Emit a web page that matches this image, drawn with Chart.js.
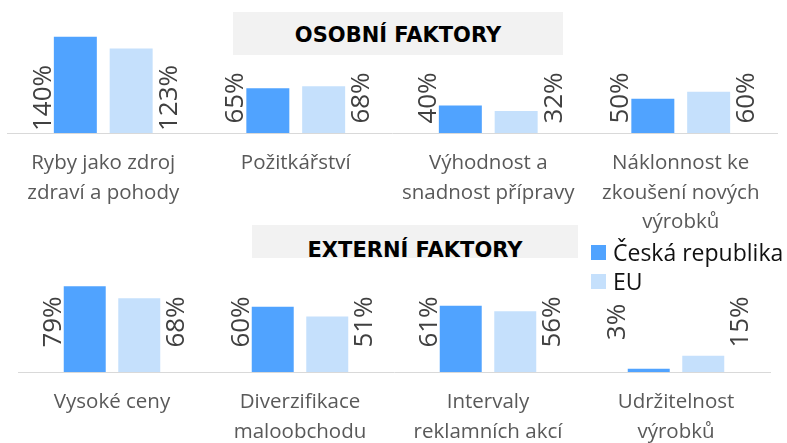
<!DOCTYPE html>
<html>
<head>
<meta charset="utf-8">
<script src="https://cdn.jsdelivr.net/npm/chart.js@4.4.0/dist/chart.umd.min.js"></script>
<style>
  body { margin: 0; background: #fff; font-family: "Open Sans", sans-serif; }
  #wrap { position: relative; width: 787px; height: 443px; overflow: hidden; }
  canvas { position: absolute; left: 0; }
  #topChart { top: 0; }
  #bottomChart { top: 236px; }
  .title { position: absolute; background: #f2f2f2; font-family: "DejaVu Sans", sans-serif; font-weight: bold;
           font-size: 21px; color: #000; text-align: center; overflow: hidden; line-height: 21px; box-sizing: border-box; }
  .legend { position: absolute; left: 591px; font-size: 23px; color: #111; line-height: 29px; }
  .legend div { display: flex; align-items: center; }
  .legend span.box { display: inline-block; width: 15px; height: 15px; margin-right: 7px; }
</style>
</head>
<body>
<div id="wrap">
  <canvas id="topChart" width="787" height="236"></canvas>
  <canvas id="bottomChart" width="787" height="207"></canvas>
  <div class="title" style="left:233px;top:12px;width:330px;height:43px;padding-top:13px;">OSOBNÍ FAKTORY</div>
  <div class="title" style="left:252px;top:225px;width:326px;height:33px;padding-top:15px;">EXTERNÍ FAKTORY</div>
  <div class="legend" style="top:238px;">
    <div><span class="box" style="background:#50a3ff"></span>Česká republika</div>
    <div><span class="box" style="background:#c5e0fc"></span>EU</div>
  </div>
</div>
<script>
// personal factors (top panel)
const personalLabels = [
  ['Ryby jako zdroj', 'zdraví a pohody'],
  ['Požitkářství'],
  ['Výhodnost a', 'snadnost přípravy'],
  ['Náklonnost ke', 'zkoušení nových', 'výrobků']
];
const personalCZ = [140, 65, 40, 50];
const personalEU = [123, 68, 32, 60];

// external factors (bottom panel)
const externalLabels = [
  ['Vysoké ceny'],
  ['Diverzifikace', 'maloobchodu'],
  ['Intervaly', 'reklamních akcí'],
  ['Udržitelnost', 'výrobků']
];
const externalCZ = [79, 60, 61, 3];
const externalEU = [68, 51, 56, 15];

const seriesNames = ['Česká republika', 'EU'];
const colorCZ = '#50a3ff';
const colorEU = '#c5e0fc';

// rotated % labels beside each bar
const sideLabels = {
  id: 'sideLabels',
  afterDatasetsDraw(chart, args, opts) {
    const ctx = chart.ctx;
    const base = chart.chartArea.bottom;
    ctx.save();
    ctx.font = '26px "Open Sans"';
    ctx.fillStyle = '#404040';
    ctx.textAlign = 'center';
    ctx.textBaseline = 'alphabetic';
    chart.data.datasets.forEach((ds, i) => {
      chart.getDatasetMeta(i).data.forEach((bar, j) => {
        const half = bar.width / 2;
        const x = i === 0 ? bar.x - half - 3 : bar.x + half + 24;
        ctx.save();
        ctx.translate(x, base - opts.lift);
        ctx.rotate(-Math.PI / 2);
        ctx.fillText(ds.data[j] + '%', 0, 0);
        ctx.restore();
      });
    });
    ctx.restore();
  }
};

function makeChart(id, labels, cz, eu, s) {
  return new Chart(document.getElementById(id), {
    type: 'bar',
    data: {
      labels: labels,
      datasets: [
        { label: seriesNames[0], data: cz, backgroundColor: colorCZ },
        { label: seriesNames[1], data: eu, backgroundColor: colorEU }
      ]
    },
    options: {
      responsive: false,
      animation: false,
      categoryPercentage: 0.58,
      barPercentage: 0.77,
      layout: { padding: { left: s.left, right: s.right, top: 10, bottom: 0 } },
      plugins: {
        legend: { display: false },
        tooltip: { enabled: false },
        sideLabels: { lift: s.lift }
      },
      scales: {
        x: {
          grid: { display: false, drawTicks: false },
          border: { display: true, color: '#d9d9d9', width: 1 },
          ticks: {
            color: '#595959',
            font: { family: 'Open Sans', size: 20.5, lineHeight: 1.42 },
            padding: 16,
            maxRotation: 0,
            autoSkip: false
          },
          afterFit: (scale) => { scale.height = s.axisH; }
        },
        y: { display: false, min: 0, max: s.max }
      }
    },
    plugins: [sideLabels]
  });
}

makeChart('topChart', personalLabels, personalCZ, personalEU,
  { left: 7, right: 10, axisH: 103, max: 179, lift: 35 });
makeChart('bottomChart', externalLabels, externalCZ, externalEU,
  { left: 18, right: 17, axisH: 71, max: 116, lift: 50 });
</script>
</body>
</html>
